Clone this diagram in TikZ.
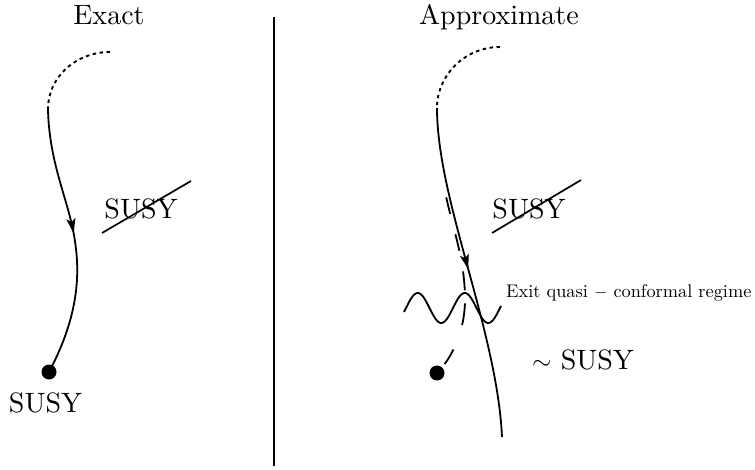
\documentclass[tikz,border=0pt]{standalone}
\usepackage{fontspec}
\setmainfont{lmroman10-regular.otf}
\usetikzlibrary{arrows.meta,decorations.markings}
\begin{document}
\begin{tikzpicture}[x=1pt,y=-1pt,
  curve/.style={line width=1.8pt},
  dotarc/.style={line width=1.9pt, dash pattern=on 3.5pt off 3.5pt},
  dashcurve/.style={line width=1.8pt, dash pattern=on 0pt off 90pt on 17pt off 21pt on 17pt off 21pt on 19pt off 13pt on 22pt off 26pt on 17pt off 100pt},
  bigtext/.style={font=\fontsize{28}{34}\selectfont, inner sep=0pt},
  midtext/.style={font=\fontsize{18.3}{22}\selectfont, inner sep=0pt},
  fixpt/.style={circle, fill=black, inner sep=0pt, minimum size=15pt},
  arrowmark/.style={postaction={decorate}, decoration={markings,
     mark=at position #1 with {\arrow{Stealth[length=15pt,width=9pt,inset=3.5pt]}}}}
]
\useasboundingbox (0,0) rectangle (755,470);

% titles
\node[bigtext, anchor=base] (titleL) at (109,25) {Exact};
\node[bigtext, anchor=base] (titleR) at (499,25) {Approximate};

% separator
\coordinate (sepTop) at (274,17);
\coordinate (sepBot) at (274,466);
\draw[line width=1.6pt] (sepTop) -- (sepBot);

% ---------- left panel ----------
\coordinate (arcLstart) at (110,52);
\coordinate (flowLtop) at (48,109);
\node[fixpt] (dotL) at (49,372) {};
\node[bigtext, anchor=base] (susyL) at (45.5,412) {SUSY};

\draw[dotarc] (arcLstart) .. controls (76,52) and (48,77) .. (flowLtop);
\draw[curve, arrowmark=0.47] (flowLtop) .. controls (49,160) and (66,195) .. (73,230)
   .. controls (80,265) and (82,310) .. (dotL.center);

\node[bigtext] (brokenL) at (141,209) {SUSY};
\coordinate (strikeL1) at (102,233);
\coordinate (strikeL2) at (191,181);
\draw[line width=1.7pt] (strikeL1) -- (strikeL2);

% ---------- right panel ----------
\coordinate (arcRstart) at (500,47);
\coordinate (flowRtop) at (437,108);
\coordinate (flowRend) at (502,437);
\node[fixpt] (dotR) at (437,373) {};

\draw[dotarc] (arcRstart) .. controls (465,47) and (437,75) .. (flowRtop);
\draw[curve, arrowmark=0.49] (flowRtop) .. controls (437,200) and (497,330) .. (flowRend);
\draw[dashcurve] (flowRtop) .. controls (437,205) and (463,232) .. (465,295)
   .. controls (466,330) and (452,358) .. (dotR.center);

% wave
\draw[curve] plot[domain=-2:95, samples=90, smooth] ({406+\x}, {308-15*sin(7.6596*\x)});

\node[bigtext] (brokenR) at (529,209) {SUSY};
\coordinate (strikeR1) at (492,233);
\coordinate (strikeR2) at (581,180);
\draw[line width=1.7pt] (strikeR1) -- (strikeR2);

\node[midtext, anchor=base west] (exit) at (506,298) {Exit quasi $-$ conformal regime};
\node[bigtext, anchor=base] (approxSusy) at (583,370) {$\sim$ SUSY};
\end{tikzpicture}
\end{document}
